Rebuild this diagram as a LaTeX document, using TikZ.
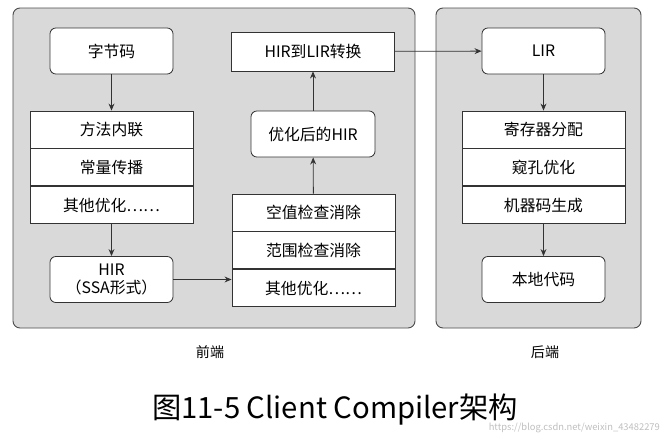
\documentclass[tikz,border=0pt]{standalone}
\usepackage{fontspec}
\setmainfont{Noto Sans CJK SC}
\usetikzlibrary{positioning,arrows.meta}
\tikzset{
	panel/.style={draw=black!70, fill=black!15, rounded corners=6pt, line width=0.8pt},
	phase/.style={draw=black!80, fill=white, rounded corners=5pt, line width=0.7pt, minimum width=3.69cm, minimum height=1.38cm, align=center, font=\fontsize{13.5}{15}\selectfont},
	stage/.style={draw=black!80, fill=white, line width=0.7pt, minimum width=4.89cm, minimum height=1.11cm, font=\fontsize{13.5}{15}\selectfont},
	flow/.style={-{Stealth[length=6pt,width=5pt]}, line width=0.7pt, draw=black!80}
}
\begin{document}
\begin{tikzpicture}[x=0.03cm, y=-0.03cm]
		\useasboundingbox (0,0) rectangle (668,445);
		\draw[panel] (13,8) rectangle (415,328);
		\draw[panel] (436,8) rectangle (641,328);

		% front end
		\node[phase] (bc) at (111.5,51) {字节码};
		\node[stage] (inl) at (111.5,129.5) {方法内联};
		\node[stage, below=0pt of inl] (cp) {常量传播};
		\node[stage, below=0pt of cp] (oth1) {其他优化……};
		\node[phase] (hir) at (111.5,279.5) {HIR\\（SSA形式）};

		\node[stage] (nce) at (313.5,212.5) {空值检查消除};
		\node[stage, below=0pt of nce] (rce) {范围检查消除};
		\node[stage, below=0pt of rce] (oth2) {其他优化……};
		\node[phase, minimum width=3.72cm] (ohir) at (313,134) {优化后的HIR};
		\node[stage, minimum height=1.17cm] (conv) at (313,51.5) {HIR到LIR转换};

		% back end
		\node[phase] (lir) at (543.5,51) {LIR};
		\node[stage] (ra) at (543.5,129.5) {寄存器分配};
		\node[stage, below=0pt of ra] (po) {窥孔优化};
		\node[stage, below=0pt of po] (cg) {机器码生成};
		\node[phase] (nat) at (543.5,279.5) {本地代码};

		\draw[flow] (bc) -- (inl);
		\draw[flow] (oth1) -- (hir);
		\draw[flow] (hir.east) -- (hir.east -| oth2.west);
		\draw[flow] (nce) -- (ohir);
		\draw[flow] (ohir) -- (conv);
		\draw[flow] (conv) -- (lir);
		\draw[flow] (lir) -- (ra);
		\draw[flow] (cg) -- (nat);

		\node[font=\fontsize{12}{14}\selectfont] (fe) at (210,352) {前端};
		\node[font=\fontsize{12}{14}\selectfont] (be) at (545,352) {后端};
		\node[font=\fontsize{25}{29}\selectfont] (cap) at (335,410) {图11-5 Client Compiler架构};
		\node[font=\fontsize{8}{10}\selectfont, text=black!25, anchor=east] (wm) at (664,428) {https://blog.csdn.net/weixin\_43482279};
	\end{tikzpicture}
\end{document}
